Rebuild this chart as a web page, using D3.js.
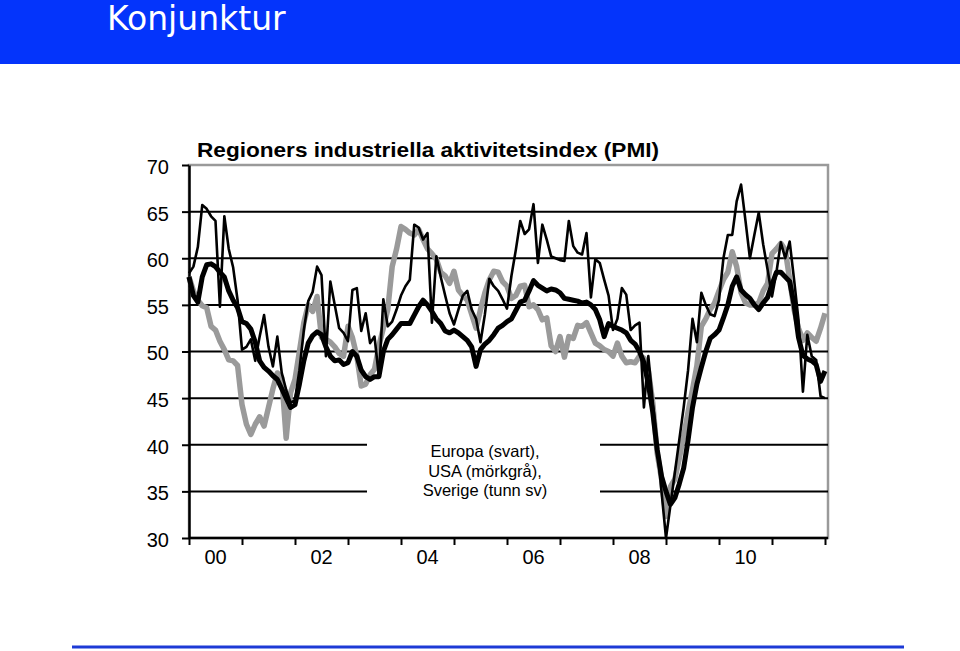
<!DOCTYPE html>
<html><head><meta charset="utf-8">
<script src="https://cdn.jsdelivr.net/npm/d3@7"></script>
<style>body{margin:0;background:#fff}svg{display:block}</style>
</head><body>
<svg id="c" width="960" height="651"></svg>
<script>
// Monthly values, Jan 2000 .. Jan 2012 (145 points)
const europa = [
58.0,56.0,55.3,58.0,59.3,59.4,59.1,58.5,58.0,56.5,55.5,54.7,
53.2,53.0,52.4,51.0,49.0,48.3,47.9,47.4,47.0,46.0,45.0,44.0,
44.3,46.5,49.0,50.9,51.7,52.1,51.8,50.5,49.5,49.0,49.1,48.6,
48.8,50.0,49.5,48.0,47.3,47.0,47.3,47.3,50.0,51.3,51.8,52.4,
53.0,53.0,53.0,53.9,54.8,55.5,55.0,54.3,53.5,53.0,52.2,52.0,
52.3,52.0,51.6,51.2,50.5,48.4,50.2,50.8,51.2,51.8,52.5,52.8,
53.2,53.5,54.4,55.3,55.5,56.5,57.6,57.1,56.8,56.5,56.7,56.6,
56.3,55.7,55.6,55.5,55.4,55.2,55.3,55.0,54.5,53.4,51.6,53.0,
52.7,52.5,52.3,52.0,51.2,50.8,50.0,48.8,46.5,43.5,39.5,36.6,
35.0,33.6,34.3,35.8,37.5,40.5,44.0,46.5,48.3,50.0,51.4,51.8,
52.3,53.6,55.0,57.0,58.0,56.6,56.1,55.7,55.0,54.5,55.2,55.8,
57.2,58.5,58.5,58.0,57.5,55.0,51.5,49.6,49.2,49.0,48.6,46.8,
47.9];
const usa = [
58.0,56.5,55.5,54.9,54.7,52.7,52.3,51.1,50.2,49.1,49.0,48.5,
44.3,42.2,41.1,42.2,43.0,42.0,44.0,46.0,47.7,47.2,40.7,45.6,
47.0,50.0,53.1,55.0,54.3,55.9,51.5,51.3,51.0,50.5,49.8,49.5,
52.7,51.5,49.5,46.3,46.5,47.5,48.1,50.6,52.5,54.5,59.1,61.0,
63.4,63.1,62.7,62.5,63.1,62.0,61.0,60.5,59.9,58.5,58.1,57.3,
58.6,56.6,56.0,55.5,54.0,52.5,54.5,56.3,57.7,58.6,58.5,57.5,
57.0,55.7,56.0,57.0,57.1,54.8,55.0,54.5,53.4,53.6,50.6,50.0,
51.6,49.4,51.6,51.4,52.8,52.7,53.1,52.0,50.9,50.6,50.2,50.0,
49.5,50.9,49.5,48.8,48.9,48.8,49.5,49.3,48.0,44.5,39.1,36.3,
32.3,35.5,36.3,38.5,40.9,43.5,45.9,48.5,52.7,53.5,54.5,55.2,
56.5,57.7,58.5,60.7,59.1,56.3,55.2,55.0,55.0,55.2,56.5,57.3,
60.5,61.0,61.6,60.9,57.7,54.5,52.5,51.2,52.0,51.5,51.1,52.5,
54.1];
const sverige = [
58.4,59.1,61.2,65.7,65.3,64.5,64.0,54.8,64.5,61.0,59.0,55.5,
50.2,50.5,51.3,49.0,51.6,53.9,50.5,48.4,51.6,47.7,45.9,44.5,
44.8,48.0,52.3,55.4,56.4,59.1,58.2,49.5,57.5,55.0,52.5,52.0,
51.1,56.6,56.8,52.2,54.1,50.9,51.6,47.3,55.6,52.7,53.2,54.5,
56.0,57.0,57.7,63.6,63.3,62.0,62.7,53.1,60.2,58.0,56.0,54.1,
52.9,54.5,56.0,56.5,54.5,53.5,51.0,54.0,57.8,57.0,56.5,55.6,
54.6,58.1,60.9,64.0,62.6,63.1,65.8,59.5,63.6,62.0,60.2,60.0,
59.8,59.7,64.0,61.3,60.6,60.4,62.7,55.8,59.9,59.5,57.7,56.0,
52.3,53.5,56.8,56.1,52.3,52.8,53.1,44.0,49.5,44.6,39.8,34.9,
30.0,33.5,37.0,40.5,44.0,48.0,53.5,51.0,56.3,55.0,54.0,53.8,
55.5,60.0,62.5,62.5,66.1,67.9,64.0,60.0,62.5,64.9,61.5,58.8,
55.9,58.5,61.7,60.0,61.8,57.7,53.4,45.7,51.8,49.5,49.1,45.2,
45.0];
const yTicks = [30,35,40,45,50,55,60,65,70];
const gridValues = [35,40,45,50,55,60,65];
const yearTicks = [0,12,24,36,48,60,72,84,96,108,120,132,144];
const yearLabelMonths = [6,30,54,78,102,126];
const yearLabels = ["00","02","04","06","08","10"];
const legendLines = ["Europa (svart),","USA (mörkgrå),","Sverige (tunn sv)"];
const headerTitle = "Konjunktur";
const chartTitle = "Regioners industriella aktivitetsindex (PMI)";

const svg = d3.select("#c");
const FONT = "'Liberation Sans', Arial, sans-serif";

// header band
svg.append("rect").attr("x",0).attr("y",0).attr("width",960).attr("height",64).attr("fill","#0434fb");
svg.append("text").attr("x",107).attr("y",30)
  .attr("font-family","'DejaVu Sans', Verdana, sans-serif").attr("font-size",33)
  .attr("fill","#fff").text(headerTitle);
// footer line
svg.append("line").attr("x1",72).attr("x2",904).attr("y1",647).attr("y2",647)
  .attr("stroke","#1d3ad6").attr("stroke-width",3);

const x = d3.scaleLinear().domain([0,144]).range([189,825]);
const y = d3.scaleLinear().domain([30,70]).range([538,165]);
const plotL = 189, plotR = 828;

// chart title
svg.append("text").attr("x",197).attr("y",157).attr("font-family",FONT)
  .attr("font-size",21).attr("font-weight","bold").attr("fill","#000")
  .attr("textLength",462).attr("lengthAdjust","spacingAndGlyphs").text(chartTitle);

// plot frame (grey)
svg.append("rect").attr("x",plotL).attr("y",y(70)).attr("width",plotR-plotL).attr("height",y(30)-y(70))
  .attr("fill","none").attr("stroke","#9a9a9a").attr("stroke-width",2.5);

// gridlines
svg.append("g").selectAll("line").data(gridValues).join("line")
  .attr("x1",plotL).attr("x2",plotR).attr("y1",d=>y(d)).attr("y2",d=>y(d))
  .attr("stroke","#000").attr("stroke-width",2);

// legend box (white, interrupts gridlines)
svg.append("rect").attr("x",367).attr("y",428).attr("width",233).attr("height",76).attr("fill","#fff");
svg.append("g").selectAll("text").data(legendLines).join("text")
  .attr("x",485).attr("y",(d,i)=>457+i*19.5).attr("text-anchor","middle")
  .attr("font-family",FONT).attr("font-size",16.5).attr("fill","#000").text(d=>d);

// y axis
const ya = svg.append("g").attr("transform",`translate(${plotL},0)`)
  .call(d3.axisLeft(y).tickValues(yTicks).tickSize(7).tickSizeOuter(0).tickPadding(13).tickFormat(d3.format("d")));
ya.select(".domain").attr("stroke","#000").attr("stroke-width",2.5);
ya.selectAll(".tick line").attr("stroke","#000").attr("stroke-width",2);
ya.selectAll(".tick text").attr("font-family",FONT).attr("font-size",20).attr("fill","#000").attr("dy","0.42em");

// x axis
const xa = svg.append("g").attr("transform",`translate(0,${y(30)})`)
  .call(d3.axisBottom(x).tickValues(yearTicks).tickSize(7).tickSizeOuter(0).tickFormat(""));
xa.select(".domain").remove();
xa.selectAll(".tick line").attr("stroke","#000").attr("stroke-width",2);
svg.append("line").attr("x1",plotL).attr("x2",plotR).attr("y1",y(30)).attr("y2",y(30))
  .attr("stroke","#000").attr("stroke-width",2.5);
svg.append("g").selectAll("text").data(yearLabels).join("text")
  .attr("x",(d,i)=>x(yearLabelMonths[i])).attr("y",564).attr("text-anchor","middle")
  .attr("font-family",FONT).attr("font-size",20).attr("fill","#000").text(d=>d);

// series
const line = d3.line().x((d,i)=>x(i)).y(d=>y(d));
const series = [
  {data:usa, color:"#9a9a9a", w:5.5},
  {data:europa, color:"#000", w:5},
  {data:sverige, color:"#000", w:2.6}
];
svg.append("g").selectAll("path").data(series).join("path")
  .attr("d",d=>line(d.data)).attr("fill","none")
  .attr("stroke",d=>d.color).attr("stroke-width",d=>d.w)
  .attr("stroke-linejoin","round").attr("stroke-linecap","butt");
</script>
</body></html>
